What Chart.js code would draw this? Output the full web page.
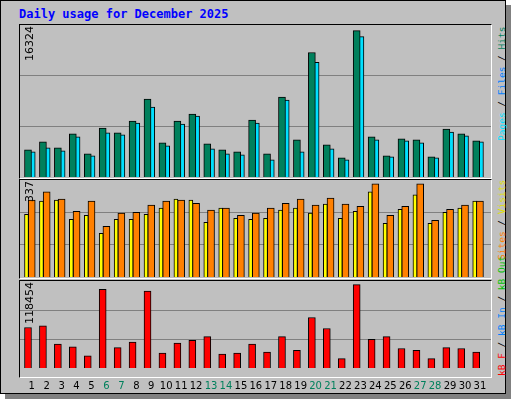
<!DOCTYPE html>
<html>
<head>
<meta charset="utf-8">
<script src="https://cdn.jsdelivr.net/npm/chart.js@4/dist/chart.umd.min.js"></script>
<style>
  body { margin: 0; background: #fff; }
  #box { position: absolute; left: 0; top: 0; width: 504px; height: 392px; background: #c0c0c0;
    border: 1px solid #000; box-shadow: 5px 5px 0 #808080; }
  .title { position: absolute; left: 19px; top: 7px; font: bold 12px "DejaVu Sans Mono", monospace; color: #0000ff; }
  .frame { position: absolute; border-left: 1px solid #000; border-top: 1px solid #000;
    border-right: 1px solid #fff; border-bottom: 1px solid #fff; }
  canvas { position: absolute; }
  .vlab { position: absolute; writing-mode: vertical-rl; transform: rotate(180deg); text-align: end;
    font: 9.5px "DejaVu Sans Mono", monospace; white-space: nowrap; }
  .vmax { position: absolute; writing-mode: vertical-rl; transform: rotate(180deg); text-align: end;
    font: 11px "DejaVu Sans", sans-serif; color: #000; white-space: nowrap; }
</style>
</head>
<body>
<div id="box"></div>
<div class="title">Daily usage for December 2025</div>
<div class="frame" style="left:19px;top:24px;width:471px;height:153px"></div>
<div class="frame" style="left:19px;top:179px;width:471px;height:98px"></div>
<div class="frame" style="left:19px;top:280px;width:471px;height:96px"></div>
<canvas id="c1" style="left:20px;top:25px" width="471" height="152"></canvas>
<canvas id="c2" style="left:20px;top:180px" width="471" height="97"></canvas>
<canvas id="c3" style="left:20px;top:281px" width="471" height="115"></canvas>
<div class="vmax" style="left:23px;top:26px;height:60px">16324</div>
<div class="vmax" style="left:23px;top:181px;height:40px">337</div>
<div class="vmax" style="left:23px;top:282px;height:60px">118454</div>
<div class="vlab" style="left:496px;top:27px;height:120px"><span style="color:#00e0ff">Pages</span> / <span style="color:#0080ff">Files</span> / <span style="color:#00805c">Hits</span></div>
<div class="vlab" style="left:496px;top:180px;height:97px"><span style="color:#ff8000">Sites</span> / <span style="color:#e0e000">Visits</span></div>
<div class="vlab" style="left:496px;top:282px;height:94px"><span style="color:#ff0000">kB F</span> / <span style="color:#0080ff">kB In</span> / <span style="color:#00c000">kB Out</span></div>
<script>
const days = Array.from({ length: 31 }, (_, i) => i + 1)
const weekends = [6, 7, 13, 14, 20, 21, 27, 28]

const hits = [3028, 3915, 3250, 4801, 2585, 5466, 4912, 6241, 8678, 3804, 6241, 7017, 3693, 3028, 2807, 6352,
  2585, 8900, 4136, 13886, 3582, 2142, 16324, 4469, 2364, 4247, 4136, 2253, 5355, 4801, 4025]
const files = [2807, 3250, 2917, 4469, 2364, 4912, 4690, 6020, 7792, 3471, 5909, 6795, 3139, 2585, 2474, 6020,
  1920, 8568, 2807, 12778, 3139, 1920, 15658, 4136, 2253, 4025, 3804, 2142, 5022, 4579, 3915]
const pages = [665, 665, 550, 370, 370, 1256, 665, 370, 1366, 665, 665, 370, 665, 370, 370, 370,
  370, 370, 370, 812, 370, 370, 812, 370, 370, 370, 370, 370, 550, 1034, 665]
const visits = [227, 275, 278, 209, 223, 158, 209, 209, 227, 249, 282, 278, 198, 249, 212, 209,
  212, 242, 249, 231, 264, 212, 238, 308, 194, 245, 297, 194, 234, 249, 275]
const sites = [278, 308, 282, 238, 275, 183, 231, 234, 260, 275, 278, 267, 242, 249, 223, 231,
  249, 267, 282, 260, 286, 264, 256, 337, 223, 256, 337, 205, 245, 260, 275]
const kbytes = [57500, 60090, 34150, 30260, 17290, 111970, 28960, 36750, 109370, 21180, 35450, 39340, 44530, 19890, 21180, 34150,
  22480, 44530, 25070, 71760, 56200, 13400, 118454, 40640, 44530, 27670, 25070, 13400, 28960, 27670, 22480]

function series (vals, off, color, width) {
  return {
    data: vals.map((v, i) => ({ x: days[i] + off, y: v })),
    backgroundColor: color,
    borderColor: '#000',
    borderWidth: 1,
    borderSkipped: 'bottom',
    barThickness: width,
    grouped: false
  }
}

function makeChart (id, datasets, max, showX) {
  return new Chart(document.getElementById(id), {
    type: 'bar',
    data: { datasets },
    options: {
      responsive: false,
      animation: false,
      layout: { padding: 0 },
      plugins: { legend: { display: false }, tooltip: { enabled: false } },
      scales: {
        x: {
          type: 'linear',
          offset: false,
          min: 0.215,
          max: 31.74,
          grid: { display: false, offset: false },
          border: { display: false },
          display: showX,
          afterBuildTicks: (ax) => { ax.ticks = days.map(d => ({ value: d })) },
          ticks: {
            autoSkip: false,
            maxRotation: 0,
            padding: 4,
            font: { family: 'DejaVu Sans', size: 10 },
            color: (c) => weekends.includes(c.tick.value) ? '#00805c' : '#000',
            callback: (v) => String(v)
          }
        },
        y: {
          min: 0,
          max,
          afterBuildTicks: (ax) => { ax.ticks = [1, 2].map(k => ({ value: max * k / 3 })) },
          grid: { color: '#808080', lineWidth: 1, drawTicks: false },
          border: { display: false },
          ticks: { display: false }
        }
      }
    }
  })
}

makeChart('c1', [
  series(hits, -0.25, '#00805c', 7),
  series(files, 0.0, '#00e0ff', 7),
  series(pages, -0.3, '#0040ff', 2)
], 16950, false)

makeChart('c2', [
  series(visits, -0.35, '#ffff00', 4),
  series(sites, 0.0, '#ff8000', 7)
], 351, false)

makeChart('c3', [
  series(kbytes, -0.25, '#ff0000', 7)
], 123642, true)
</script>
</body>
</html>
